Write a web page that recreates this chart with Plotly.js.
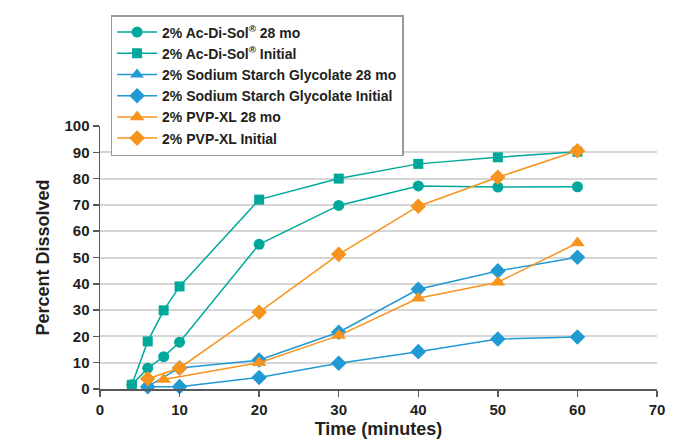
<!DOCTYPE html>
<html><head><meta charset="utf-8">
<script src="https://cdn.plot.ly/plotly-3.0.1.min.js"></script>
<style>html,body{margin:0;padding:0;background:#fff}#chart{width:685px;height:439px}</style>
</head><body><div id="chart"></div>
<script>
const seriesNames = [
  "2% Ac-Di-Sol<sup>®</sup> 28 mo",
  "2% Ac-Di-Sol<sup>®</sup> Initial",
  "2% Sodium Starch Glycolate 28 mo",
  "2% Sodium Starch Glycolate Initial",
  "2% PVP-XL 28 mo",
  "2% PVP-XL Initial"
];
const acdisol28X = [4, 6, 8, 10, 20, 30, 40, 50, 60];
const acdisol28Y = [1.6, 7.9, 12.3, 17.8, 55.0, 69.8, 77.2, 76.8, 76.9];
const acdisolInitX = [4, 6, 8, 10, 20, 30, 40, 50, 60];
const acdisolInitY = [1.6, 18.1, 29.9, 39.0, 72.0, 80.0, 85.6, 88.1, 90.2];
const ssg28X = [6, 10, 20, 30, 40, 50, 60];
const ssg28Y = [1.0, 8.0, 11.0, 21.6, 37.9, 44.9, 50.1];
const ssgInitX = [6, 10, 20, 30, 40, 50, 60];
const ssgInitY = [0.9, 0.9, 4.4, 9.8, 14.2, 19.0, 19.8];
const pvp28X = [8, 20, 30, 40, 50, 60];
const pvp28Y = [3.6, 10.0, 20.3, 34.5, 40.6, 55.5];
const pvpInitX = [6, 10, 20, 30, 40, 50, 60];
const pvpInitY = [3.9, 8.0, 29.2, 51.2, 69.5, 80.5, 90.6];
const xTicks = [0, 10, 20, 30, 40, 50, 60, 70];
const yTicks = [0, 10, 20, 30, 40, 50, 60, 70, 80, 90, 100];

const TEAL = "#00a89c", BLUE = "#2199d3", ORANGE = "#f7941e";
function tr(name, x, y, color, symbol, size) {
  return {type: "scatter", mode: "lines+markers", name: name, x: x, y: y,
    line: {color: color, width: 1.5},
    marker: {color: color, symbol: symbol, size: size, line: {width: 0}},
    cliponaxis: false};
}
// SSG 28 mo: legend shows a triangle; its plotted points appear as diamonds
const ssg28Symbols = ssg28X.map((v, i) => i === 0 ? "triangle-up" : "diamond");
const data = [
  tr(seriesNames[0], acdisol28X, acdisol28Y, TEAL, "circle", 11),
  tr(seriesNames[1], acdisolInitX, acdisolInitY, TEAL, "square", 10),
  tr(seriesNames[2], ssg28X, ssg28Y, BLUE, ssg28Symbols, 12),
  tr(seriesNames[3], ssgInitX, ssgInitY, BLUE, "diamond", 12),
  tr(seriesNames[4], pvp28X, pvp28Y, ORANGE, "triangle-up", 13),
  tr(seriesNames[5], pvpInitX, pvpInitY, ORANGE, "diamond", 12)
];
const FONT = "Liberation Sans, Arial, Helvetica, sans-serif";
const layout = {
  width: 685, height: 439,
  margin: {l: 100, r: 28, t: 126, b: 50},
  paper_bgcolor: "#fff", plot_bgcolor: "#fff",
  font: {family: FONT, color: "#231f20"},
  showlegend: true,
  legend: {x: 0.019, y: 1.422, xanchor: "left", yanchor: "top",
    bordercolor: "#9a9a9a", borderwidth: 1.5, bgcolor: "#fff",
    itemwidth: 40,
    font: {family: FONT, size: 14, color: "#231f20", weight: "bold"},
    tracegroupgap: 0},
  xaxis: {range: [0, 70], tickvals: xTicks, ticktext: xTicks.map(String),
    showgrid: false, zeroline: false, showline: true, linecolor: "#58585a", linewidth: 1.5,
    ticks: "outside", ticklen: 6, tickcolor: "#58585a", tickwidth: 1.5,
    tickfont: {family: FONT, size: 15, color: "#231f20", weight: "bold"},
    title: {text: "Time (minutes)", font: {family: FONT, size: 18, color: "#231f20", weight: "bold"}, standoff: 8},
    fixedrange: true},
  yaxis: {range: [0, 100], tickvals: yTicks, ticktext: yTicks.map(String),
    showgrid: true, gridcolor: "#d6d6d6", gridwidth: 2, zeroline: false,
    showline: true, linecolor: "#58585a", linewidth: 1.5,
    ticks: "outside", ticklen: 6, tickcolor: "#58585a", tickwidth: 1.5,
    tickfont: {family: FONT, size: 15, color: "#231f20", weight: "bold"},
    title: {text: "Percent Dissolved", font: {family: FONT, size: 18, color: "#231f20", weight: "bold"}, standoff: 10},
    fixedrange: true}
};
Plotly.newPlot("chart", data, layout, {displayModeBar: false, staticPlot: true});
</script></body></html>
